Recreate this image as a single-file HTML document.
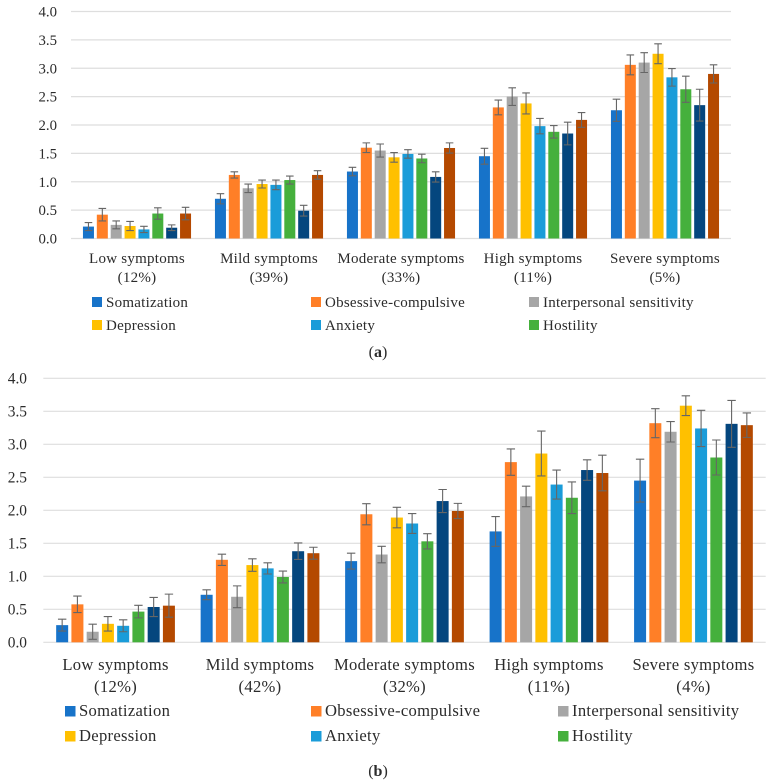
<!DOCTYPE html>
<html lang="en">
<head>
<meta charset="utf-8">
<title>Symptom profile bar charts</title>
<style>
html,body{margin:0;padding:0;background:#fff;width:771px;height:783px;overflow:hidden}
svg{display:block;font-family:"Liberation Serif",serif;fill:#2b2b2b}
</style>
</head>
<body>
<svg id="figure" xmlns="http://www.w3.org/2000/svg" width="771" height="783" viewBox="0 0 771 783"></svg>
<script>
const seriesNames = ["Somatization","Obsessive-compulsive","Interpersonal sensitivity","Depression","Anxiety","Hostility","Series 7","Series 8"];
const seriesColors = ["#1773c9","#ff7f27","#a6a6a6","#ffc000","#1a9cd9","#45b03c","#04467e","#b44900"];
const yTicks = ["0.0","0.5","1.0","1.5","2.0","2.5","3.0","3.5","4.0"];
const groupNames = ["Low symptoms","Mild symptoms","Moderate symptoms","High symptoms","Severe symptoms"];

const sharesA = ["(12%)","(39%)","(33%)","(11%)","(5%)"];
const aLow = [0.21,0.42,0.24,0.22,0.16,0.44,0.19,0.44];
const aMild = [0.70,1.12,0.885,0.96,0.945,1.03,0.49,1.12];
const aModerate = [1.18,1.60,1.55,1.43,1.49,1.41,1.085,1.595];
const aHigh = [1.45,2.31,2.50,2.38,1.98,1.88,1.85,2.09];
const aSevere = [2.26,3.06,3.10,3.255,2.84,2.63,2.35,2.90];
const aLowErr = [0.07,0.11,0.07,0.08,0.055,0.10,0.05,0.11];
const aMildErr = [0.09,0.055,0.075,0.07,0.085,0.07,0.095,0.075];
const aModerateErr = [0.075,0.085,0.115,0.085,0.075,0.075,0.09,0.09];
const aHighErr = [0.14,0.13,0.155,0.185,0.135,0.11,0.20,0.13];
const aSevereErr = [0.195,0.175,0.175,0.175,0.155,0.23,0.28,0.16];

const sharesB = ["(12%)","(42%)","(32%)","(11%)","(4%)"];
const bLow = [0.26,0.575,0.16,0.28,0.25,0.465,0.535,0.555];
const bMild = [0.72,1.25,0.69,1.17,1.12,0.99,1.38,1.35];
const bModerate = [1.23,1.94,1.33,1.89,1.80,1.53,2.14,1.99];
const bHigh = [1.68,2.73,2.21,2.86,2.39,2.19,2.61,2.565];
const bSevere = [2.45,3.32,3.19,3.585,3.24,2.80,3.31,3.29];
const bLowErr = [0.09,0.125,0.115,0.11,0.09,0.095,0.145,0.175];
const bMildErr = [0.075,0.085,0.165,0.095,0.085,0.09,0.125,0.09];
const bModerateErr = [0.12,0.16,0.125,0.155,0.15,0.115,0.175,0.115];
const bHighErr = [0.225,0.20,0.155,0.34,0.22,0.24,0.155,0.27];
const bSevereErr = [0.325,0.22,0.155,0.15,0.275,0.265,0.355,0.185];

const svg = document.getElementById('figure');
const NS = 'http://www.w3.org/2000/svg';

function shape(parent, tag, props, text) {
  const el = document.createElementNS(NS, tag);
  for (const k in props) el.setAttribute(k, props[k]);
  if (text !== undefined) el.textContent = text;
  parent.appendChild(el);
  return el;
}

function drawPanel(id, values, errors, shares, L) {
  const panel = shape(svg, 'g', {});
  
  
  const yScale = v => L.yBase - (v / 4) * (L.yBase - L.yTop);
  const groupWidth = (L.xEnd - L.xStart) / groupNames.length;
  const xScale = (g, s) => L.xStart + groupWidth * (g + 0.5) + (s - (seriesNames.length - 1) / 2) * L.barPitch;

  yTicks.forEach(t => {
    const y = yScale(parseFloat(t));
    const line = shape(panel, 'line', {x1: L.xStart, x2: L.xEnd, y1: y, y2: y, stroke: '#dedede', 'stroke-width': 1.2});
    
    
    const label = shape(panel, 'text', {x: L.tickX, y: y + 5, 'text-anchor': 'end', 'font-size': L.tickSize}, t);
    
    
  });

  values.forEach((row, g) => {
    row.forEach((v, s) => {
      const cx = xScale(g, s);
      const top = yScale(v);
      const bar = shape(panel, 'rect', {x: cx - L.barW / 2, y: top, width: L.barW, height: L.yBase - top, fill: seriesColors[s]});
      
      
    });
  });

  values.forEach((row, g) => {
    row.forEach((v, s) => {
      const cx = xScale(g, s);
      const hi = yScale(v + errors[g][s]);
      const lo = yScale(v - errors[g][s]);
      const err = shape(panel, 'path', {
        d: 'M' + cx + ' ' + hi + 'V' + lo + 'M' + (cx - L.cap) + ' ' + hi + 'H' + (cx + L.cap) + 'M' + (cx - L.cap) + ' ' + lo + 'H' + (cx + L.cap),
        fill: 'none', stroke: '#666', 'stroke-width': 1.1
      });
      
      
    });
  });

  groupNames.forEach((name, g) => {
    const cx = L.xStart + groupWidth * (g + 0.5);
    const a = shape(panel, 'text', {x: cx, y: L.catY1, 'text-anchor': 'middle', 'font-size': L.textSize, 'letter-spacing': L.spacing}, name);
    
    
    const b = shape(panel, 'text', {x: cx, y: L.catY2, 'text-anchor': 'middle', 'font-size': L.textSize, 'letter-spacing': L.spacing}, shares[g]);
    
    
  });

  for (let i = 0; i < 6; i++) {
    const col = i % 3;
    const y = i < 3 ? L.legY1 : L.legY2;
    const sw = shape(panel, 'rect', {x: L.legX[col], y: y - 10, width: L.swatch, height: L.swatch, fill: seriesColors[i]});
    
    
    const tx = shape(panel, 'text', {x: L.legX[col] + L.legGap, y: y, 'font-size': L.textSize, 'letter-spacing': L.spacing}, seriesNames[i]);
    
    
  }

  const cap = shape(panel, 'text', {x: L.capX, y: L.capY, 'text-anchor': 'middle', 'font-size': L.capSize});
  
  
  shape(cap, 'tspan', {}, '(');
  shape(cap, 'tspan', {'font-weight': 'bold'}, L.caption);
  shape(cap, 'tspan', {}, ')');
}

drawPanel('a',
  [aLow, aMild, aModerate, aHigh, aSevere],
  [aLowErr, aMildErr, aModerateErr, aHighErr, aSevereErr],
  sharesA,
  {xStart: 71, xEnd: 731, yBase: 238.5, yTop: 11.5, barPitch: 13.87, barW: 11, cap: 3.8,
   tickX: 57, tickSize: 14.8, textSize: 15, spacing: 0.25, catY1: 263, catY2: 282,
   legX: [92, 311, 529], legY1: 307, legY2: 330, swatch: 10, legGap: 14, capX: 378, capY: 357, capSize: 16, caption: 'a'});

drawPanel('b',
  [bLow, bMild, bModerate, bHigh, bSevere],
  [bLowErr, bMildErr, bModerateErr, bHighErr, bSevereErr],
  sharesB,
  {xStart: 43.3, xEnd: 765.7, yBase: 642.3, yTop: 378.3, barPitch: 15.25, barW: 12, cap: 4.2,
   tickX: 27, tickSize: 15.4, textSize: 16.6, spacing: 0.3, catY1: 670, catY2: 692,
   legX: [65, 311, 558], legY1: 716, legY2: 741, swatch: 10.5, legGap: 14, capX: 378, capY: 776, capSize: 16, caption: 'b'});
</script>
</body>
</html>
